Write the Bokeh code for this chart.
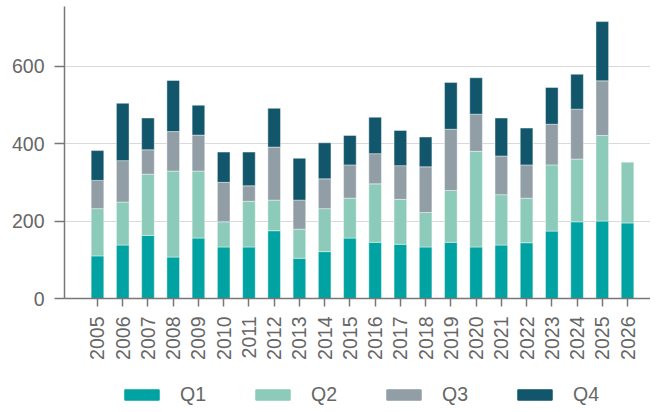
from bokeh.plotting import figure
from bokeh.models import Range1d, FixedTicker, Legend, LegendItem, ColumnDataSource
from bokeh.layouts import column
from bokeh.embed import file_html
from bokeh.resources import INLINE
import math

years = [2005, 2006, 2007, 2008, 2009, 2010, 2011, 2012, 2013, 2014, 2015,
         2016, 2017, 2018, 2019, 2020, 2021, 2022, 2023, 2024, 2025, 2026]
q1 = [110, 138, 163, 107, 156, 133, 133, 175, 104, 121, 156,
      145, 140, 133, 145, 133, 138, 144, 174, 198, 200, 195]
q2 = [122, 111, 158, 222, 173, 65, 118, 79, 75, 111, 103,
      151, 116, 89, 134, 247, 130, 115, 171, 162, 221, 158]
q3 = [73, 107, 63, 102, 93, 102, 40, 137, 75, 77, 86,
      78, 87, 118, 158, 96, 100, 86, 105, 129, 141, 0]
q4 = [77, 148, 82, 132, 77, 78, 87, 100, 108, 93, 76,
      94, 91, 77, 121, 94, 98, 95, 95, 90, 153, 0]
quarters = ["Q1", "Q2", "Q3", "Q4"]
colors = ["#00a3a1", "#8ccbb9", "#919ea6", "#12566b"]
y_ticks = [0, 200, 400, 600]

FONT = "Liberation Sans"
TXT = "#666666"
AX = "#777777"
FS = "19.5px"

W = 650
p = figure(width=W, height=362, output_backend="svg", toolbar_location=None,
           x_range=Range1d(years[0] - 1.307, years[0] + 21.91),
           y_range=Range1d(0, 754),
           min_border_left=64, min_border_top=6, min_border_right=0,
           min_border_bottom=62)
p.outline_line_color = None

data = {"year": years, "Q1": q1, "Q2": q2, "Q3": q3, "Q4": q4}
rs = p.vbar_stack(quarters, x="year", width=0.5, source=data, color=colors,
                  line_color="white", line_width=0.6, line_alpha=0.7)

p.xgrid.grid_line_color = None
p.ygrid.grid_line_color = "#d9d9d9"
p.ygrid.grid_line_width = 1

p.yaxis.ticker = FixedTicker(ticks=y_ticks)
p.yaxis.minor_tick_line_color = None
p.yaxis.major_tick_in = 0
p.yaxis.major_tick_out = 10
p.yaxis.major_tick_line_color = AX
p.yaxis.major_tick_line_width = 1.5
p.yaxis.axis_line_color = AX
p.yaxis.axis_line_width = 1.5
p.yaxis.major_label_text_font = FONT
p.yaxis.major_label_text_font_size = FS
p.yaxis.major_label_text_color = TXT
p.yaxis.major_label_standoff = 10

p.xaxis.ticker = FixedTicker(ticks=years)
p.xaxis.minor_tick_line_color = None
p.xaxis.major_tick_in = 0
p.xaxis.major_tick_out = 8
p.xaxis.major_tick_line_color = AX
p.xaxis.major_tick_line_width = 1.5
p.xaxis.axis_line_color = AX
p.xaxis.axis_line_width = 1.5
p.xaxis.major_label_orientation = math.pi / 2
p.xaxis.major_label_text_font = FONT
p.xaxis.major_label_text_font_size = FS
p.xaxis.major_label_text_color = TXT
p.xaxis.major_label_standoff = 10
p.xaxis.major_label_overrides = {y: str(y) for y in years}

# legend strip below the chart (its frame is aligned with the chart's frame)
lg = figure(width=W, height=44, output_backend="svg", toolbar_location=None,
            x_range=Range1d(0, 1), y_range=Range1d(0, 1),
            min_border=0)
lg.axis.visible = False
lg.grid.visible = False
lg.outline_line_color = None
dummy = []
for c in colors:
    dummy.append(lg.vbar(x="x", top="top", width=0.01, color=c,
                         source=ColumnDataSource(dict(x=[-5], top=[-5]))))
legend = Legend(items=[LegendItem(label=q, renderers=[r]) for q, r in zip(quarters, dummy)],
                orientation="horizontal", location=(56, 0))
legend.glyph_width = 43
legend.glyph_height = 13
legend.label_standoff = 17
legend.spacing = 45
legend.padding = 0
legend.margin = 0
legend.border_line_color = None
legend.background_fill_alpha = 0
legend.label_text_font = FONT
legend.label_text_font_size = FS
legend.label_text_color = TXT
lg.add_layout(legend, "center")

layout = column(p, lg, spacing=0)
open("out.html", "w").write(file_html(layout, INLINE))
